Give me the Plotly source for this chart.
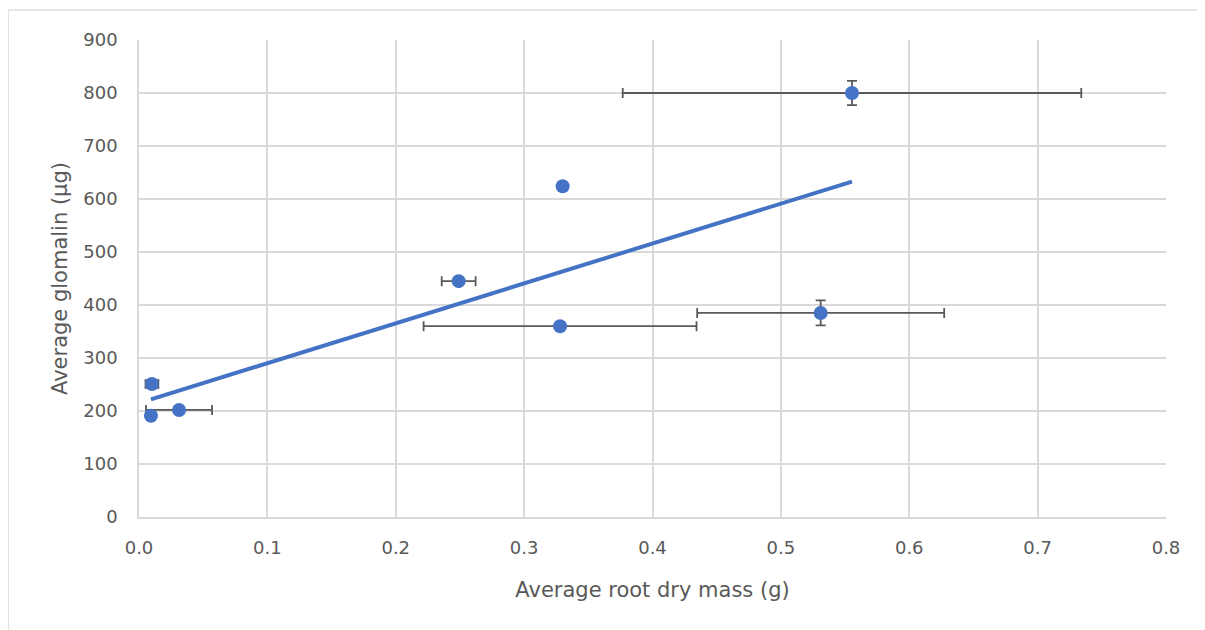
import numpy as np
import plotly.graph_objects as go

# Data
root_mass = [0.0101, 0.0093, 0.0312, 0.249, 0.330, 0.328, 0.531, 0.5554]
glomalin = [251, 191, 202, 445, 624, 360, 385, 800]
root_err = [0.005, 0.0, 0.0257, 0.0132, 0.0, 0.1063, 0.0962, 0.1786]
glom_err = [0, 0, 0, 0, 0, 0, 23.6, 22.9]

x_ticks = [0.0, 0.1, 0.2, 0.3, 0.4, 0.5, 0.6, 0.7, 0.8]
y_ticks = [0, 100, 200, 300, 400, 500, 600, 700, 800, 900]

blue = "#4472C4"
grey = "#595959"
font_family = "DejaVu Sans, sans-serif"

# Linear trendline (least squares)
slope, intercept = np.polyfit(root_mass, glomalin, 1)
tx = [min(root_mass), max(root_mass)]
ty = [slope * v + intercept for v in tx]

# page body has an 8px offset; compensate in margins
W, H = 1205, 630
L, R, T, B = 131, 47, 32, 121
pw, ph = W - L - R, H - T - B

fig = go.Figure()
fig.add_trace(go.Scatter(
    x=root_mass, y=glomalin, mode="markers",
    marker=dict(color=blue, size=14),
    error_x=dict(type="data", array=root_err, color=grey, thickness=1.8, width=5, visible=True),
    error_y=dict(type="data", array=glom_err, color=grey, thickness=1.8, width=5, visible=True),
    showlegend=False, hoverinfo="x+y"))
fig.add_trace(go.Scatter(
    x=tx, y=ty, mode="lines", line=dict(color=blue, width=4),
    showlegend=False, hoverinfo="skip"))

fig.update_layout(
    width=W, height=H,
    margin=dict(l=L, r=R, t=T, b=B),
    paper_bgcolor="white", plot_bgcolor="white",
    font=dict(family=font_family, color=grey, size=16),
    xaxis=dict(range=[0, 0.8], tickvals=x_ticks, tickformat=".1f",
               showgrid=True, gridcolor="#d9d9d9", gridwidth=1.5,
               zeroline=False, showline=True, linecolor="#d9d9d9", linewidth=1.5,
               ticks="", ticklabelstandoff=14, tickfont=dict(size=18, color=grey),
               title=dict(text="Average root dry mass (g)", font=dict(size=21, color=grey), standoff=25)),
    yaxis=dict(range=[0, 900], tickvals=y_ticks,
               showgrid=True, gridcolor="#d9d9d9", gridwidth=1.5,
               zeroline=False, showline=True, linecolor="#d9d9d9", linewidth=1.5,
               ticks="", ticklabelstandoff=16, tickfont=dict(size=18, color=grey),
               title=dict(text="Average glomalin (µg)", font=dict(size=21, color=grey), standoff=10)),
    shapes=[dict(type="rect", xref="paper", yref="paper",
                 x0=(0 - L) / pw, x1=1.2, y0=-0.4, y1=1 + (T - 2) / ph,
                 line=dict(color="#d0d0d0", width=1.2), fillcolor="rgba(0,0,0,0)", layer="below")],
)

fig.write_html("out.html")
